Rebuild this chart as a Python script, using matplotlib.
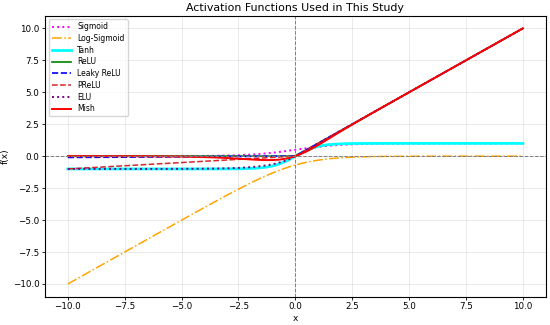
import matplotlib
matplotlib.use("Agg")
import matplotlib.pyplot as plt

x = [-10, -9, -8, -7, -6, -5, -4, -3.5, -3, -2.5, -2, -1.75, -1.5, -1.25, -1, -0.75,
     -0.5, -0.25, 0, 0.25, 0.5, 0.75, 1, 1.25, 1.5, 1.75, 2, 2.5, 3, 3.5, 4, 5, 6, 7, 8, 9, 10]

sigmoid = [0.000, 0.000, 0.000, 0.001, 0.002, 0.007, 0.018, 0.029, 0.047, 0.076, 0.119, 0.148,
           0.182, 0.223, 0.269, 0.321, 0.378, 0.438, 0.500, 0.562, 0.622, 0.679, 0.731, 0.777,
           0.818, 0.852, 0.881, 0.924, 0.953, 0.971, 0.982, 0.993, 0.998, 0.999, 1.000, 1.000, 1.000]

log_sigmoid = [-10.000, -9.000, -8.000, -7.001, -6.002, -5.007, -4.018, -3.530, -3.049, -2.579,
               -2.127, -1.910, -1.701, -1.502, -1.313, -1.137, -0.974, -0.826, -0.693, -0.576,
               -0.474, -0.387, -0.313, -0.252, -0.201, -0.160, -0.127, -0.079, -0.049, -0.030,
               -0.018, -0.007, -0.002, -0.001, 0.000, 0.000, 0.000]

tanh = [-1.000, -1.000, -1.000, -1.000, -1.000, -1.000, -0.999, -0.998, -0.995, -0.987, -0.964,
        -0.941, -0.905, -0.848, -0.762, -0.635, -0.462, -0.245, 0.000, 0.245, 0.462, 0.635,
        0.762, 0.848, 0.905, 0.941, 0.964, 0.987, 0.995, 0.998, 0.999, 1.000, 1.000, 1.000,
        1.000, 1.000, 1.000]

relu = [0, 0, 0, 0, 0, 0, 0, 0, 0, 0, 0, 0, 0, 0, 0, 0, 0, 0, 0, 0.25, 0.5, 0.75, 1, 1.25,
        1.5, 1.75, 2, 2.5, 3, 3.5, 4, 5, 6, 7, 8, 9, 10]

leaky_relu = [-0.100, -0.090, -0.080, -0.070, -0.060, -0.050, -0.040, -0.035, -0.030, -0.025,
              -0.020, -0.0175, -0.015, -0.0125, -0.010, -0.0075, -0.005, -0.0025, 0, 0.25, 0.5,
              0.75, 1, 1.25, 1.5, 1.75, 2, 2.5, 3, 3.5, 4, 5, 6, 7, 8, 9, 10]

prelu = [-1.000, -0.900, -0.800, -0.700, -0.600, -0.500, -0.400, -0.350, -0.300, -0.250, -0.200,
         -0.175, -0.150, -0.125, -0.100, -0.075, -0.050, -0.025, 0, 0.25, 0.5, 0.75, 1, 1.25,
         1.5, 1.75, 2, 2.5, 3, 3.5, 4, 5, 6, 7, 8, 9, 10]

elu = [-1.000, -1.000, -1.000, -0.999, -0.998, -0.993, -0.982, -0.970, -0.950, -0.918, -0.865,
       -0.826, -0.777, -0.713, -0.632, -0.528, -0.393, -0.221, 0, 0.25, 0.5, 0.75, 1, 1.25,
       1.5, 1.75, 2, 2.5, 3, 3.5, 4, 5, 6, 7, 8, 9, 10]

mish = [-0.000, -0.001, -0.003, -0.006, -0.015, -0.034, -0.073, -0.104, -0.146, -0.197, -0.253,
        -0.278, -0.298, -0.308, -0.303, -0.277, -0.221, -0.130, 0.000, 0.170, 0.375, 0.610,
        0.865, 1.132, 1.403, 1.675, 1.944, 2.471, 2.987, 3.494, 3.997, 5.000, 6.000, 7.000,
        8.000, 9.000, 10.000]

series = [
    ("Sigmoid", sigmoid, dict(color="magenta", linestyle=":", lw=1.4)),
    ("Log-Sigmoid", log_sigmoid, dict(color="orange", linestyle="-.", lw=1.1)),
    ("Tanh", tanh, dict(color="cyan", linestyle="-", lw=2.0)),
    ("ReLU", relu, dict(color="green", linestyle="-", lw=1.2)),
    ("Leaky ReLU", leaky_relu, dict(color="blue", linestyle="--", lw=1.2)),
    ("PReLU", prelu, dict(color="tab:red", linestyle="--", lw=1.1)),
    ("ELU", elu, dict(color="purple", linestyle=":", lw=1.4)),
    ("Mish", mish, dict(color="red", linestyle="-", lw=1.4)),
]

fig = plt.figure(figsize=(5.5, 3.25), dpi=100)
ax = fig.add_axes([0.082, 0.087, 0.910, 0.865])

for name, y, st in series:
    ax.plot(x, y, label=name, **st)

ax.axhline(0, color="gray", linestyle="--", lw=0.7)
ax.axvline(0, color="gray", linestyle="--", lw=0.7)
ax.grid(True, alpha=0.3, lw=0.6)

ax.set_title("Activation Functions Used in This Study", fontsize=7.9, pad=3)
ax.set_xlabel("x", fontsize=6.5, labelpad=2)
ax.set_ylabel("f(x)", fontsize=6.5, labelpad=2)
ax.tick_params(labelsize=6.3, length=2, width=0.6, pad=2)
for s in ax.spines.values():
    s.set_linewidth(0.8)
ax.legend(loc="upper left", fontsize=5.5, handlelength=2.5, labelspacing=0.35,
          borderpad=0.4, framealpha=0.8)

fig.savefig("out.png", dpi=100)
